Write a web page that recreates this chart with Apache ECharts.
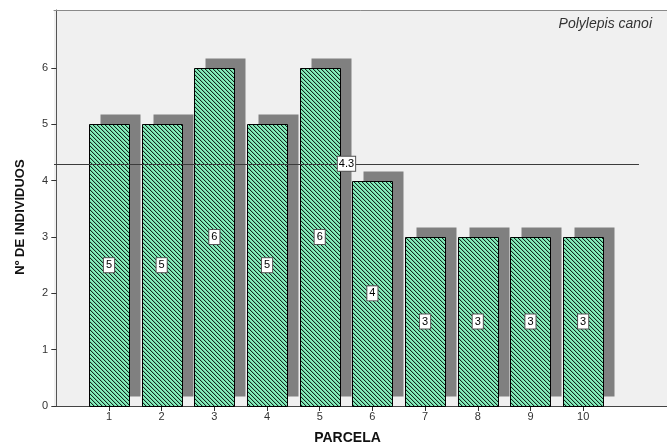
<!DOCTYPE html>
<html>
<head>
    <meta charset="utf-8">
    <title>Polylepis canoi</title>
    <script src="https://cdn.jsdelivr.net/npm/echarts@6/dist/echarts.min.js"></script>
    <style>
        html, body { margin: 0; padding: 0; background: #fff; }
    </style>
</head>
<body>
    <div id="main" style="width: 667px;height:446px;"></div>
    <script type="text/javascript">
        // datos
        var parcelas = [1, 2, 3, 4, 5, 6, 7, 8, 9, 10];
        var individuos = [5, 5, 6, 5, 6, 4, 3, 3, 3, 3];
        var media = 4.3;
        var yTicks = [0, 1, 2, 3, 4, 5, 6];

        var FONT = 'Liberation Sans, Arial, sans-serif';

        // trama de rayas diagonales
        var hatch = document.createElement('canvas');
        hatch.width = 4;
        hatch.height = 4;
        var hctx = hatch.getContext('2d');
        hctx.fillStyle = '#86eebc';
        hctx.fillRect(0, 0, 4, 4);
        for (var py = 0; py < 4; py++) {
            for (var px = 0; px < 4; px++) {
                var d = (px - py + 8) % 4;
                if (d === 0) {
                    hctx.fillStyle = '#13281e';
                    hctx.fillRect(px, py, 1, 1);
                } else if (d === 1) {
                    hctx.fillStyle = '#6cc89c';
                    hctx.fillRect(px, py, 1, 1);
                }
            }
        }

        var myChart = echarts.init(document.getElementById('main'), null, { renderer: 'canvas' });

        function renderItem(params, api) {
            var x = api.value(0), v = api.value(1);
            var top = api.coord([x, v]);
            var base = api.coord([x, 0]);
            var mid = api.coord([x, v / 2]);
            var w = 40;
            var r = { x: Math.round(top[0] - w / 2) + 0.5, y: Math.round(top[1]) + 0.5, width: w, height: Math.round(base[1]) - Math.round(top[1]) };
            return {
                type: 'group',
                children: [{
                    type: 'rect',
                    shape: { x: r.x + 11, y: r.y - 10, width: w, height: r.height },
                    style: { fill: '#808080' }
                }, {
                    type: 'rect',
                    shape: r,
                    style: { fill: { image: hatch, repeat: 'repeat' }, stroke: '#000', lineWidth: 1 }
                }, {
                    type: 'text',
                    x: mid[0],
                    y: mid[1],
                    style: {
                        text: String(v),
                        fontSize: 11,
                        fontFamily: FONT,
                        fill: '#000',
                        backgroundColor: '#fff',
                        borderColor: '#555',
                        borderWidth: 1,
                        padding: [2, 2, 1, 2],
                        align: 'center',
                        verticalAlign: 'middle'
                    }
                }]
            };
        }

        var xMin = -0.044, xMax = 11.63, lineEnd = 11.06;

        var option = {
            backgroundColor: '#fff',
            animation: false,
            title: {
                text: 'Polylepis canoi',
                right: 10,
                top: 12,
                textStyle: { fontSize: 14, fontStyle: 'italic', fontWeight: 'normal', color: '#333', fontFamily: FONT }
            },
            grid: {
                left: 54, right: -2, top: 10, bottom: 40,
                outerBoundsMode: 'none',
                containLabel: false,
                show: true,
                backgroundColor: '#f0f0f0',
                borderWidth: 0
            },
            xAxis: [{
                type: 'value',
                min: xMin,
                max: xMax,
                name: 'PARCELA',
                nameLocation: 'middle',
                nameGap: 25,
                nameTextStyle: { fontSize: 14, fontWeight: 'bold', color: '#111', fontFamily: FONT, padding: [0, 28, 0, 0] },
                splitLine: { show: false },
                axisLine: { lineStyle: { color: '#444' } },
                axisTick: { show: true, length: 5, customValues: parcelas, lineStyle: { color: '#333' } },
                axisLabel: { customValues: parcelas, fontSize: 11, color: '#333', margin: 5, fontFamily: FONT }
            }, {
                type: 'value',
                position: 'top',
                min: xMin,
                max: xMax,
                splitLine: { show: false },
                axisLine: { show: true, lineStyle: { color: '#8a8a8a' } },
                axisTick: { show: false },
                axisLabel: { show: false }
            }],
            yAxis: {
                type: 'value',
                min: 0,
                max: 7.03,
                name: 'Nº DE INDIVIDUOS',
                nameLocation: 'middle',
                nameGap: 27,
                nameTextStyle: { fontSize: 13, fontWeight: 'bold', color: '#111', fontFamily: FONT, padding: [0, 18, 0, 0] },
                splitLine: { show: false },
                axisLine: { show: true, lineStyle: { color: '#555' } },
                axisTick: { show: true, length: 5, customValues: yTicks, lineStyle: { color: '#333' } },
                axisLabel: { customValues: yTicks, fontSize: 11, color: '#333', margin: 6, fontFamily: FONT }
            },
            series: [{
                type: 'custom',
                renderItem: renderItem,
                encode: { x: 0, y: 1 },
                data: parcelas.map(function (p, i) { return [p, individuos[i]]; }),
                markLine: {
                    silent: true,
                    symbol: 'none',
                    lineStyle: { color: '#3c3c3c', width: 1, type: 'solid' },
                    label: {
                        show: true,
                        position: 'insideMiddle',
                        formatter: String(media),
                        fontSize: 11,
                        color: '#000',
                        fontFamily: FONT,
                        backgroundColor: '#fff',
                        borderColor: '#555',
                        borderWidth: 1,
                        padding: [2, 1, 1, 1],
                        distance: 0
                    },
                    data: [[{ coord: [xMin, media] }, { coord: [lineEnd, media] }]]
                }
            }]
        };

        myChart.setOption(option);
    </script>
</body>
</html>
